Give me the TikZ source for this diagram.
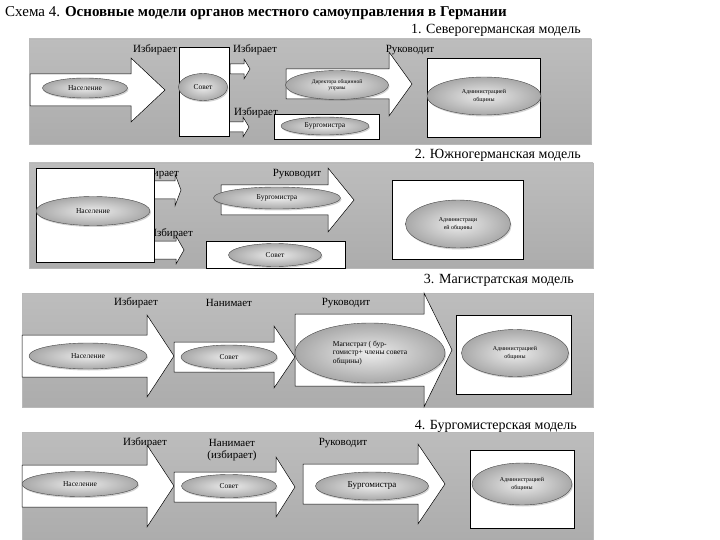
\documentclass[tikz,border=0pt]{standalone}
\usepackage{fontspec}
\setmainfont{Liberation Serif}
\usetikzlibrary{shapes.geometric,shadows}

\tikzset{
  panel/.style={top color=gray!52, middle color=gray!14, bottom color=gray!65, draw=gray!55, line width=0.6pt},
  oval/.style={ellipse, draw=gray!55!black, inner color=gray!15, outer color=gray!68,
    drop shadow={opacity=0.35, shadow xshift=1pt, shadow yshift=-1.5pt},
    inner sep=0pt, align=center, font=\fontsize{7.5}{8.5}\selectfont},
  whitebox/.style={draw, fill=white, line width=0.6pt},
  lbl/.style={font=\fontsize{11}{12}\selectfont, inner sep=0pt, align=center},
  arr/.style={draw, fill=white, line width=0.5pt, line join=miter},
  heading/.style={font=\fontsize{14}{15}\selectfont, inner sep=0pt},
}

% block arrow: x start, x head, x tip, y centre, half body, half head
\newcommand{\blockarrow}[6]{%
  \draw[arr] (#1,#4-#5) -- (#2,#4-#5) -- (#2,#4-#6) -- (#3,#4) -- (#2,#4+#6)
    -- (#2,#4+#5) -- (#1,#4+#5) -- cycle;}

\begin{document}
\begin{tikzpicture}[x=1pt,y=-1pt]
\useasboundingbox (0,0) rectangle (720,540);

% Title and model names
\node[heading, anchor=west, font=\fontsize{15}{16}\selectfont] (title) at (5,13) {Схема 4. \textbf{Основные модели органов местного самоуправления в Германии}};
\node[heading, anchor=east] (h1) at (581,30) {1. Северогерманская модель};
\node[heading, anchor=east] (h2) at (581,155) {2. Южногерманская модель};
\node[heading, anchor=east] (h3) at (574,280) {3. Магистратская модель};
\node[heading, anchor=east] (h4) at (577,426) {4. Бургомистерская модель};

% 1. North German model
\shade[panel] (29,39) rectangle (591,144);
\node[lbl] (l1a) at (155,50) {Избирает};
\node[lbl] (l1b) at (255,50) {Избирает};
\node[lbl] (l1c) at (256,113) {Избирает};
\node[lbl] (l1d) at (410,50) {Руководит};
\blockarrow{30}{131}{165}{90}{16}{32}
\blockarrow{230}{244}{250}{69}{5}{10}
\blockarrow{229}{243}{249}{127}{5}{10}
\blockarrow{286}{389}{412}{84}{15}{32}
\draw[whitebox] (179,47) rectangle (229,136);
\draw[whitebox] (274,114) rectangle (379,139);
\draw[whitebox] (427,58) rectangle (540,137);
\node[oval, minimum width=85pt, minimum height=20pt] (nas1) at (85,88) {Население};
\node[oval, minimum width=49pt, minimum height=27pt] (sov1) at (203,87) {Совет};
\node[oval, minimum width=103pt, minimum height=29pt, font=\fontsize{5.5}{6.5}\selectfont] (dir1) at (337,85) {Директора общинной\\управы};
\node[oval, minimum width=88pt, minimum height=18pt] (bur1) at (325,126) {Бургомистра};
\node[oval, minimum width=114pt, minimum height=38pt, font=\fontsize{6}{7.5}\selectfont] (adm1) at (484,96) {Администрацией\\общины};

% 2. South German model
\shade[panel] (29,163) rectangle (593,268);
\node[lbl] (l2a) at (157,174) {Избирает};
\node[lbl] (l2b) at (171,234) {Избирает};
\node[lbl] (l2c) at (297,174) {Руководит};
\blockarrow{154}{175}{181}{190}{9}{16}
\blockarrow{154}{176}{184}{250}{9}{14}
\blockarrow{221}{328}{354}{200}{15}{32}
\draw[whitebox] (36,168) rectangle (154,262);
\draw[whitebox] (206,241) rectangle (345,268);
\draw[whitebox] (392,180) rectangle (523,259);
\node[oval, minimum width=114pt, minimum height=29pt] (nas2) at (93,211) {Население};
\node[oval, minimum width=127pt, minimum height=22pt] (bur2) at (277,198) {Бургомистра};
\node[oval, minimum width=93pt, minimum height=23pt] (sov2) at (275,255) {Совет};
\node[oval, minimum width=105pt, minimum height=48pt, font=\fontsize{6}{7.5}\selectfont] (adm2) at (458,224) {Администраци\\ей общины};

% 3. Magistrate model
\shade[panel] (22,293) rectangle (593,407);
\node[lbl] (l3a) at (136,303) {Избирает};
\node[lbl] (l3b) at (229,303) {Нанимает};
\node[lbl] (l3c) at (346,303) {Руководит};
\blockarrow{22}{147}{174}{356}{21}{41}
\blockarrow{174}{274}{295}{357}{15}{31}
\blockarrow{295}{424}{452}{350}{36}{57}
\draw[whitebox] (456,315) rectangle (571,394);
\node[oval, minimum width=118pt, minimum height=26pt] (nas3) at (88,356) {Население};
\node[oval, minimum width=96pt, minimum height=24pt] (sov3) at (229,357) {Совет};
\node[oval, minimum width=150pt, minimum height=60pt, align=left] (mag3) at (370,353) {Магистрат ( бур-\\гомистр+ члены совета\\общины)};
\node[oval, minimum width=107pt, minimum height=47pt, font=\fontsize{6}{7.5}\selectfont] (adm3) at (515,353) {Администрацией\\общины};

% 4. Burgomaster model
\shade[panel] (22,432) rectangle (593,540);
\node[lbl] (l4a) at (145,443) {Избирает};
\node[lbl] (l4b) at (232,450) {Нанимает\\(избирает)};
\node[lbl] (l4c) at (343,443) {Руководит};
\blockarrow{22}{147}{174}{486}{21}{41}
\blockarrow{174}{276}{295}{487}{15}{30}
\blockarrow{303}{418}{445}{484}{20}{40}
\draw[whitebox] (470,450) rectangle (574,528);
\node[oval, minimum width=116pt, minimum height=25pt] (nas4) at (80,484) {Население};
\node[oval, minimum width=95pt, minimum height=23pt] (sov4) at (229,486) {Совет};
\node[oval, minimum width=113pt, minimum height=28pt, font=\fontsize{9}{10}\selectfont] (bur4) at (372,486) {Бургомистра};
\node[oval, minimum width=100pt, minimum height=42pt, font=\fontsize{6}{7.5}\selectfont] (adm4) at (522,484) {Администрацией\\общины};
\end{tikzpicture}
\end{document}
